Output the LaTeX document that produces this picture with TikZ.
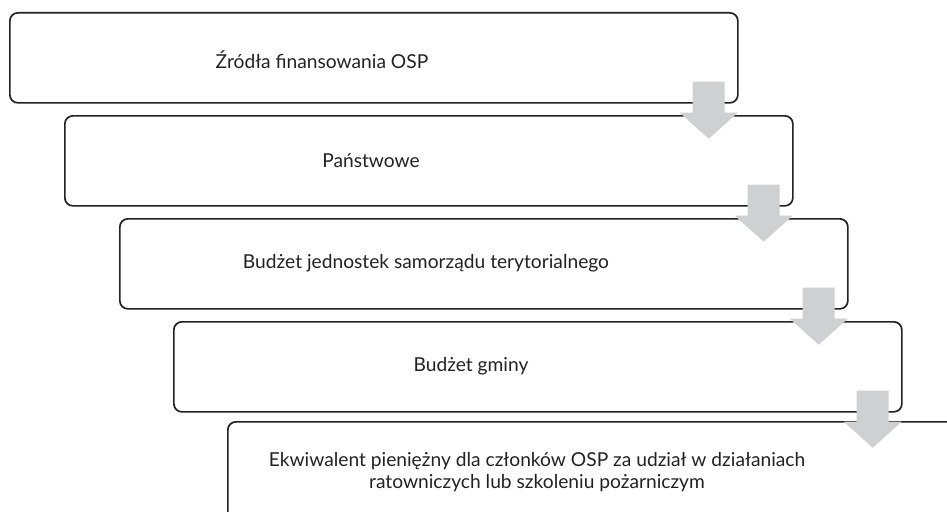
\documentclass[tikz,border=0pt]{standalone}
\usepackage{fontspec}
\setmainfont{Lato}
\usepackage{tikz}
\usetikzlibrary{positioning}
\definecolor{boxline}{HTML}{222222}
\definecolor{arrowgrey}{HTML}{CFD0D2}
\tikzset{
	stepbox/.style={draw=boxline, line width=1.7pt, rounded corners=8pt, rectangle, inner sep=0pt,
		minimum width=728pt, minimum height=90pt, anchor=north west},
	steptext/.style={text=boxline, font=\fontsize{19.2}{21.5}\selectfont, align=center, inner sep=0pt},
	downarrow/.style={fill=arrowgrey}
}
\begin{document}
\begin{tikzpicture}[x=1pt, y=-1pt]
\useasboundingbox (0,0) rectangle (947,511);
\clip (0,0) rectangle (947,511);
\node[stepbox] (b1) at (9,12) {};
\node[stepbox] (b2) at (64,115) {};
\node[stepbox] (b3) at (119,218) {};
\node[stepbox] (b4) at (173,321) {};
\node[stepbox, minimum height=110pt] (b5) at (227,421) {};

\node[steptext] (t1) at (322,60) {Źródła finansowania OSP};
\node[steptext] (t2) at (371,161) {Państwowe};
\node[steptext] (t3) at (426,263) {Budżet jednostek samorządu terytorialnego};
\node[steptext] (t4) at (471,366) {Budżet gminy};
\node[steptext] (t5) at (537,472) {Ekwiwalent pieniężny dla członków OSP za udział w działaniach\\ratowniczych lub szkoleniu pożarniczym};

\foreach \i in {1,...,4} {
	\fill[downarrow, shift={(b\i.south east)}] (-46,-22) -- (-14,-22) -- (-14,9) -- (-1,9) -- (-30,35) -- (-59,9) -- (-46,9) -- cycle;
	};
\end{tikzpicture}
\end{document}
